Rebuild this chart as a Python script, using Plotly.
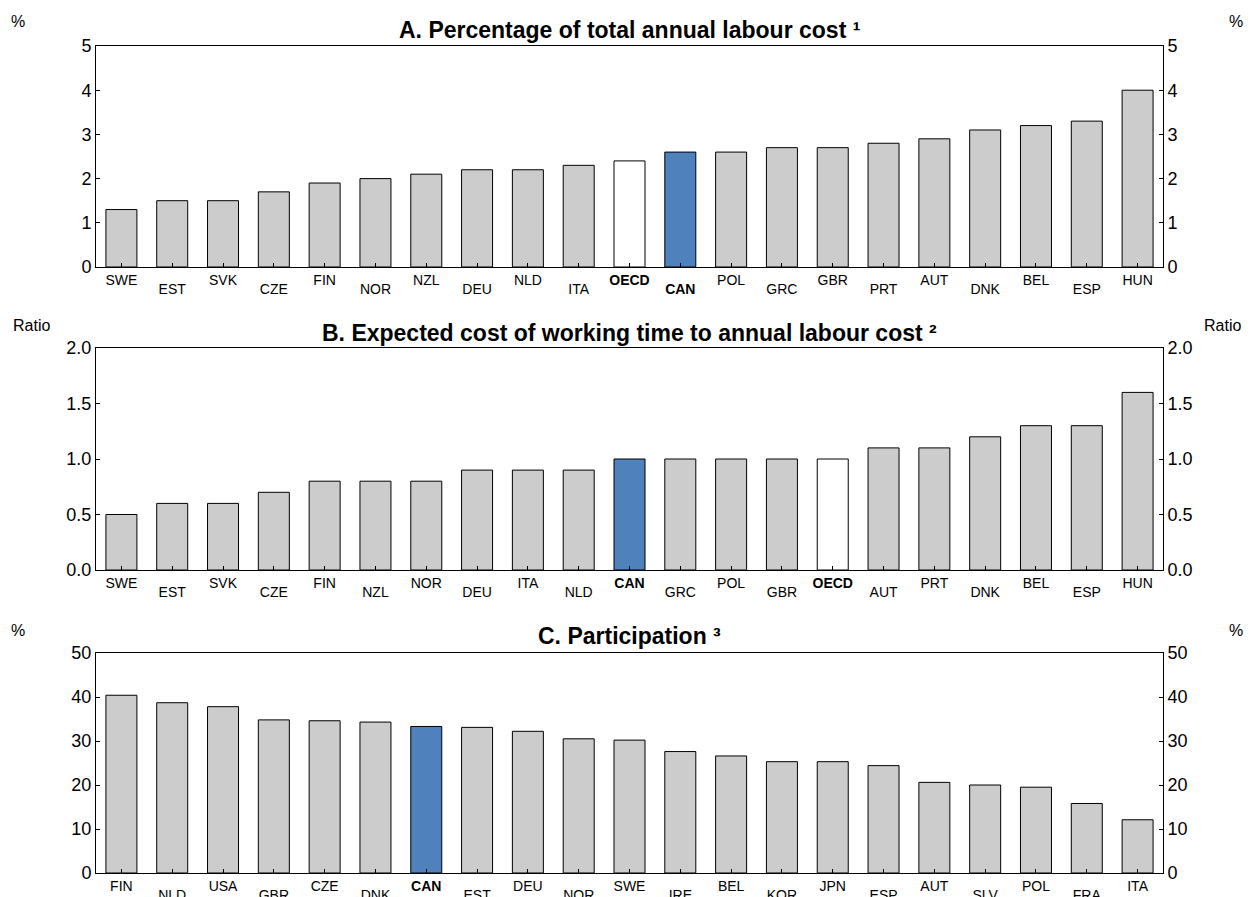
import plotly.graph_objects as go

# Panel A
a_countries = ["SWE","EST","SVK","CZE","FIN","NOR","NZL","DEU","NLD","ITA","OECD","CAN","POL","GRC","GBR","PRT","AUT","DNK","BEL","ESP","HUN"]
a_values = [1.3,1.5,1.5,1.7,1.9,2.0,2.1,2.2,2.2,2.3,2.4,2.6,2.6,2.7,2.7,2.8,2.9,3.1,3.2,3.3,4.0]
# Panel B
b_countries = ["SWE","EST","SVK","CZE","FIN","NZL","NOR","DEU","ITA","NLD","CAN","GRC","POL","GBR","OECD","AUT","PRT","DNK","BEL","ESP","HUN"]
b_values = [0.5,0.6,0.6,0.7,0.8,0.8,0.8,0.9,0.9,0.9,1.0,1.0,1.0,1.0,1.0,1.1,1.1,1.2,1.3,1.3,1.6]
# Panel C
c_countries = ["FIN","NLD","USA","GBR","CZE","DNK","CAN","EST","DEU","NOR","SWE","IRE","BEL","KOR","JPN","ESP","AUT","SLV","POL","FRA","ITA"]
c_values = [40.4,38.7,37.8,34.8,34.6,34.3,33.3,33.1,32.2,30.5,30.2,27.6,26.6,25.3,25.3,24.4,20.6,20.0,19.5,15.8,12.1]

titles = ["A. Percentage of total annual labour cost ¹",
          "B. Expected cost of working time to annual labour cost ²",
          "C. Participation ³"]
units = ["%", "Ratio", "%"]
ranges = [[0, 5], [0, 2.0], [0, 50]]
dticks = [1, 0.5, 10]
tickformats = ["d", ".1f", "d"]

OFF = 8  # page body margin
W, H = 1252 - 2 * OFF, 897 - OFF
def px(x):
    return (x - OFF) / W
def py(y):
    return 1 - (y - OFF) / H

x0, x1 = px(96), px(1163)
panels_px = [(46, 267), (348, 570), (653, 873)]

GRAY = "#CCCCCC"
BLUE = "#4F81BD"
FONT = "Liberation Sans, Arial, sans-serif"

fig = go.Figure()
layout = dict(
    template="none",
    width=W, height=H, margin=dict(l=0, r=0, t=0, b=0, pad=0),
    paper_bgcolor="white", plot_bgcolor="white", showlegend=False,
    font=dict(family=FONT, color="black"), bargap=0.39,
)
annotations = []

data = [(a_countries, a_values), (b_countries, b_values), (c_countries, c_values)]
for i, (cats, vals) in enumerate(data):
    n = i + 1
    xa = "x" if n == 1 else f"x{n}"
    ya = "y" if n == 1 else f"y{n}"
    xo = f"x{n + 3}"
    yr = f"y{n + 3}"
    colors = [BLUE if c == "CAN" else ("white" if c == "OECD" else GRAY) for c in cats]
    xs = list(range(len(cats)))
    fig.add_trace(go.Bar(x=xs, y=vals, marker=dict(color=colors, line=dict(color="black", width=1)),
                         xaxis=xa, yaxis=ya, hoverinfo="x+y"))
    fig.add_trace(go.Scatter(x=[xs[0]], y=[ranges[i][0]], mode="markers", marker=dict(opacity=0),
                             xaxis=xo, yaxis=yr, hoverinfo="skip"))
    top_px, bot_px = panels_px[i]
    dom = [py(bot_px), py(top_px)]
    labels = [f"<b>{c}</b>" if c in ("CAN", "OECD") else c for c in cats]
    even = [j for j in xs if j % 2 == 0]
    odd = [j for j in xs if j % 2 == 1]
    xcommon = dict(range=[-0.5, len(cats) - 0.5], ticks="inside", ticklen=4, tickcolor="black",
                   showgrid=False, zeroline=False, automargin=False,
                   tickfont=dict(size=14, family=FONT, color="black"))
    xkey = "xaxis" if n == 1 else f"xaxis{n}"
    ykey = "yaxis" if n == 1 else f"yaxis{n}"
    layout[xkey] = dict(domain=[x0, x1], anchor=ya, tickmode="array", tickvals=even,
                        ticktext=[labels[j] for j in even],
                        showline=True, linecolor="black", linewidth=1, mirror=True, **xcommon)
    layout[f"xaxis{n + 3}"] = dict(domain=[x0, x1], anchor=ya, overlaying=xa, side="bottom",
                                   tickmode="array", tickvals=odd, ticktext=[labels[j] for j in odd],
                                   ticklabelstandoff=12, showline=False, **xcommon)
    ycommon = dict(range=ranges[i], dtick=dticks[i], tick0=0, tickformat=tickformats[i],
                   ticks="inside", ticklen=4, tickcolor="black",
                   showgrid=False, zeroline=False, automargin=False,
                   tickfont=dict(size=18, family=FONT, color="black"))
    layout[ykey] = dict(domain=dom, anchor=xa, side="left",
                        showline=True, linecolor="black", linewidth=1, **ycommon)
    layout[f"yaxis{n + 3}"] = dict(domain=dom, anchor=xa, overlaying=ya, side="right",
                                   showline=True, linecolor="black", linewidth=1, **ycommon)
    title_y = [30, 333, 636][i]
    unit_y = [22, 326, 630][i]
    annotations.append(dict(text=f"<b>{titles[i]}</b>", x=(x0 + x1) / 2, y=py(title_y),
                            xref="paper", yref="paper", showarrow=False,
                            font=dict(size=23, family=FONT, color="black"),
                            xanchor="center", yanchor="middle"))
    lx = 32 if units[i] == "Ratio" else 18
    rx = 1222 if units[i] == "Ratio" else 1236
    for ux in (lx, rx):
        annotations.append(dict(text=units[i], x=px(ux), y=py(unit_y), xref="paper", yref="paper",
                                showarrow=False, font=dict(size=16, family=FONT, color="black"),
                                xanchor="center", yanchor="middle"))

layout["annotations"] = annotations
fig.update_layout(**layout)
fig.write_html("out.html")
